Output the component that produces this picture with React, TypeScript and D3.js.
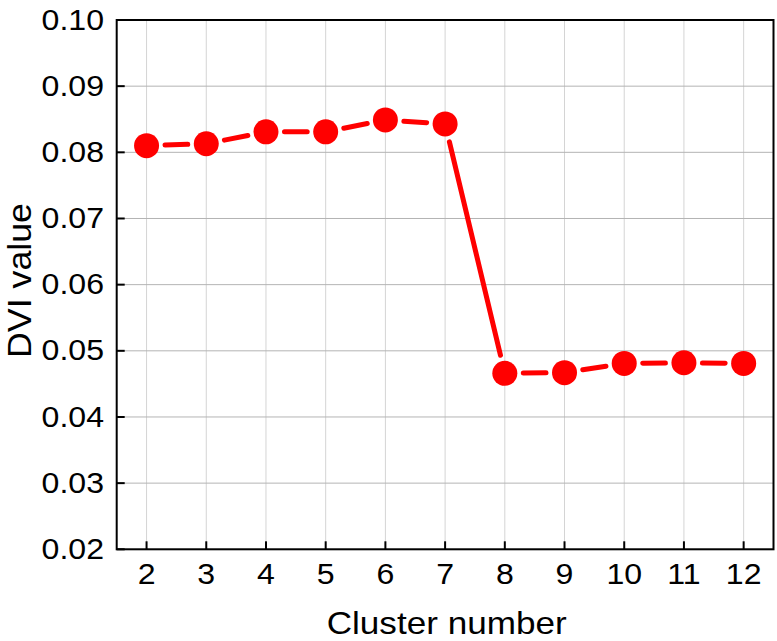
import React from "react";
import * as d3 from "d3";

const clusters = [2, 3, 4, 5, 6, 7, 8, 9, 10, 11, 12];
const dviValues = [0.081, 0.0813, 0.0831, 0.0831, 0.0849, 0.0843, 0.0466, 0.0467, 0.0481, 0.0482, 0.0481];
const yTicks = [0.02, 0.03, 0.04, 0.05, 0.06, 0.07, 0.08, 0.09, 0.1];
const xTicks = [2, 3, 4, 5, 6, 7, 8, 9, 10, 11, 12];

const W = 777, H = 641;
const M = { left: 116.7, right: 773.5, top: 20, bottom: 549.3 };
const FONT = "'Liberation Sans', Arial, sans-serif";
const SX = 1.07;

export default function App() {
  const x = d3.scaleLinear().domain([1.5, 12.5]).range([M.left, M.right]);
  const y = d3.scaleLinear().domain([0.02, 0.1]).range([M.bottom, M.top]);
  const pts = clusters.map((c, i) => [x(c), y(dviValues[i])] as [number, number]);
  const r = 12.5;
  const gap = 4;
  const segs = pts.slice(1).map((p, i) => {
    const a = pts[i];
    const dx = p[0] - a[0], dy = p[1] - a[1];
    const len = Math.hypot(dx, dy);
    const ux = dx / len, uy = dy / len;
    const off = r + gap + 2;
    return [a[0] + ux * off, a[1] + uy * off, p[0] - ux * off, p[1] - uy * off];
  });
  return (
    <svg width={W} height={H} style={{ position: "absolute", left: 0, top: 0, background: "#fff" }}>
      <rect x={0} y={0} width={W} height={H} fill="#fff" />
      {xTicks.map((t) => (
        <line key={"gx" + t} x1={x(t)} x2={x(t)} y1={M.top} y2={M.bottom} stroke="#d4d4d4" strokeWidth={1} />
      ))}
      {yTicks.map((t) => (
        <line key={"gy" + t} x1={M.left} x2={M.right} y1={y(t)} y2={y(t)} stroke="#b4b4b4" strokeWidth={1} />
      ))}
      {segs.map((s, i) => (
        <line key={"s" + i} x1={s[0]} y1={s[1]} x2={s[2]} y2={s[3]} stroke="#ff0000" strokeWidth={5} strokeLinecap="round" />
      ))}
      {pts.map((p, i) => (
        <circle key={"c" + i} cx={p[0]} cy={p[1]} r={r} fill="#ff0000" />
      ))}
      <rect x={M.left} y={M.top} width={M.right - M.left} height={M.bottom - M.top} fill="none" stroke="#000" strokeWidth={2} />
      {yTicks.map((t) => (
        <g key={"ty" + t}>
          <line x1={M.left} x2={M.left + 8} y1={y(t)} y2={y(t)} stroke="#000" strokeWidth={2} />
          <text transform={`translate(104,${y(t) + 9.6}) scale(${SX},1)`} textAnchor="end" fontFamily={FONT} fontSize={30} fill="#000">
            {d3.format(".2f")(t)}
          </text>
        </g>
      ))}
      {xTicks.map((t) => (
        <g key={"tx" + t}>
          <line x1={x(t)} x2={x(t)} y1={M.bottom} y2={M.bottom - 8} stroke="#000" strokeWidth={2} />
          <text transform={`translate(${x(t)},584) scale(${SX},1)`} textAnchor="middle" fontFamily={FONT} fontSize={30} fill="#000">
            {t}
          </text>
        </g>
      ))}
      <text x={446.7} y={634} textAnchor="middle" fontFamily={FONT} fontSize={32} fill="#000" textLength={240} lengthAdjust="spacingAndGlyphs">
        Cluster number
      </text>
      <text transform={`translate(31,280.5) rotate(-90)`} textAnchor="middle" fontFamily={FONT} fontSize={34} fill="#000" textLength={155} lengthAdjust="spacingAndGlyphs">
        DVI value
      </text>
    </svg>
  );
}
